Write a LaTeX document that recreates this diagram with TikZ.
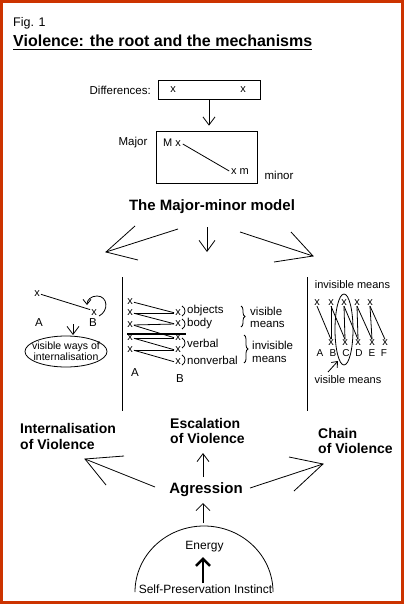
\documentclass[tikz,border=0pt]{standalone}
\usepackage{fontspec}
\setmainfont{Liberation Sans}
\usetikzlibrary{arrows.meta,decorations.pathreplacing,shapes.geometric}
\definecolor{framered}{RGB}{204,51,0}
\begin{document}
\begin{tikzpicture}[x=1pt,y=-1pt,
  lbl/.style={inner sep=0pt, font=\fontsize{11.5}{13}\selectfont},
  xm/.style={inner sep=0pt, font=\fontsize{11}{12}\selectfont},
  sm/.style={inner sep=0pt, font=\fontsize{10}{11}\selectfont},
  big/.style={inner sep=0pt, font=\bfseries\fontsize{14}{15.5}\selectfont, align=left},
  ln/.style={line width=0.8pt},
  vhead/.style={ln, -{Straight Barb[length=8pt,width=12pt]}},
  bighead/.style={ln, -{Straight Barb[length=11pt,width=16pt]}},
]
\useasboundingbox (0,0) rectangle (404,604);
\draw[line width=2.6pt, framered] (1.3,1.3) rectangle (402.7,602.7);

% header
\node[anchor=base west, inner sep=0pt, font=\fontsize{12.5}{14}\selectfont] (fig) at (13,27) {Fig. 1};
\node[anchor=base west, inner sep=0pt, font=\bfseries\fontsize{16}{18}\selectfont] (title) at (13,47) {Violence: the root and the mechanisms};
\draw[line width=1.3pt] ([yshift=-2.5pt]title.base west) -- ([yshift=-2.5pt]title.base east);

% differences
\node[draw, ln, minimum width=102pt, minimum height=19pt, inner sep=0pt] (diff) at (209,89.5) {};
\node[lbl, anchor=east] (difflbl) at (151,90) {Differences:};
\node[xm] (dx1) at (173,90) {x};
\node[xm] (dx2) at (243,90) {x};

% major-minor box
\node[draw, ln, minimum width=101pt, minimum height=52pt, inner sep=0pt] (major) at (206.5,157) {};
\draw[vhead, shorten >=5pt] (diff.south) -- (diff.south |- major.north);
\node[lbl] (majlbl) at (133,143) {Major};
\node[xm] (Mx) at (172,143) {M x};
\node[xm] (xm) at (240,172) {x m};
\draw[ln, shorten <=2pt, shorten >=2pt] (Mx.east) -- (xm.west);
\node[lbl] (minlbl) at (279,175) {minor};
\node[inner sep=0pt, font=\bfseries\fontsize{15}{17}\selectfont] (model) at (212,207) {The Major-minor model};

% three arrows from the model
\coordinate (ls) at (178,229); \coordinate (lt) at (106,252);
\coordinate (lh1) at (135,226); \coordinate (lh2) at (138,260);
\draw[ln] (ls) -- (lt); \draw[ln] (lh1) -- (lt) -- (lh2);
\coordinate (ms) at (207,227); \coordinate (mt) at (207,252);
\draw[bighead] (ms) -- (mt);
\coordinate (rs) at (240,232); \coordinate (rt) at (313,256);
\coordinate (rh1) at (291,232); \coordinate (rh2) at (274,262);
\draw[ln] (rs) -- (rt); \draw[ln] (rh1) -- (rt) -- (rh2);

% separators
\coordinate (s1a) at (122,277); \coordinate (s1b) at (122,411);
\coordinate (s2a) at (307,277); \coordinate (s2b) at (307,411);
\draw[ln] (s1a) -- (s1b);
\draw[ln] (s2a) -- (s2b);

% left panel
\node[xm] (lxa) at (37,294) {x};
\node[xm] (lxb) at (94,313) {x};
\draw[ln, shorten <=1pt, shorten >=1pt] (lxa.east) -- (lxb.north west);
\node[lbl] (la) at (39,323) {A};
\node[lbl] (lb) at (93,323) {B};
\draw[ln, -{Straight Barb[length=5pt,width=8pt]}] (99,316) .. controls (109,311) and (108,296) .. (97,296) .. controls (91,296) and (87,300) .. (87,305);
\coordinate (da) at (73,324); \coordinate (db) at (73,335);
\draw[vhead] (da) -- (db);
\node[draw, ln, ellipse, minimum width=82pt, minimum height=31pt, inner sep=0pt] (vis) at (66,351.5) {};
\node[inner sep=0pt, align=center, font=\fontsize{10.5}{11.5}\selectfont] (vistxt) at (66,351) {visible ways of\\internalisation};

% middle panel
\node[xm] (a1) at (130,302) {x};
\node[xm] (a2) at (130,313) {x};
\node[xm] (a3) at (130,325) {x};
\node[xm] (a4) at (130,338) {x};
\node[xm] (a5) at (130,350) {x};
\node[xm] (b1) at (178,313) {x};
\node[xm] (b2) at (178,324) {x};
\node[xm] (b3) at (178,338) {x};
\node[xm] (b4) at (178,350) {x};
\node[xm] (b5) at (178,362) {x};
\foreach \i in {1,...,5}{\draw[ln, shorten <=1pt, shorten >=1pt] (a\i.east) -- (b\i.west);}
\foreach \i/\j in {2/1,3/2,4/3,5/4}{\draw[ln, shorten <=1pt, shorten >=1pt] (a\i.east) -- (b\j.west);}
\coordinate (tha) at (127,334); \coordinate (thb) at (186,334);
\draw[line width=1.5pt] (tha) -- (thb);
\foreach \y/\t/\n in {311/objects/o, 324/body/bo, 343/verbal/ve, 360/nonverbal/nv}{
  \draw[ln] (182,\y-5) .. controls (186,\y-3) and (186,\y+3) .. (182,\y+5);
  \node[lbl, anchor=west] (\n) at (187,\y) {\t};
}
\draw[ln, decorate, decoration={brace, amplitude=4pt}] (241,306) -- (241,327);
\node[lbl, anchor=west] (vm1) at (250,311) {visible};
\node[lbl, anchor=west] (vm2) at (250,324) {means};
\draw[ln, decorate, decoration={brace, amplitude=4pt}] (244,335) -- (244,363);
\node[lbl, anchor=west] (im1) at (252,345) {invisible};
\node[lbl, anchor=west] (im2) at (252,359) {means};
\node[lbl] (ma) at (135,373) {A};
\node[lbl] (mb) at (180,379) {B};

% right panel
\node[xm] (inv) at (352.5,285) {invisible means};
\foreach \i/\x in {1/317,2/331,3/344,4/357,5/370}{\node[xm] (t\i) at (\x,303) {x};}
\foreach \i/\x in {1/331,2/345,3/358,4/372,5/385}{\node[xm] (u\i) at (\x,342.5) {x};}
\foreach \i/\x/\l in {1/320/A,2/333/B,3/346/C,4/359/D,5/372/E,6/384/F}{\node[sm] (L\i) at (\x,353.5) {\l};}
\foreach \i in {1,...,5}{\draw[ln] (t\i.south) -- (u\i.north);}
\foreach \i/\j in {1/2,2/3,3/4,4/5}{\draw[ln] (u\i.north) -- (t\j.south);}
\node[draw, ln, ellipse, minimum width=18pt, minimum height=71pt, inner sep=0pt] (cell) at (344,329.5) {};
\coordinate (sa1) at (328,372); \coordinate (sa2) at (338,361);
\draw[ln, -{Straight Barb[length=5pt,width=8pt]}] (sa1) -- (sa2);
\node[xm] (vism) at (348,380) {visible means};

% bottom labels
\node[big, anchor=west] (intv) at (20,436.5) {Internalisation\\of Violence};
\node[big, anchor=west] (escv) at (170,431) {Escalation\\of Violence};
\node[big, anchor=west] (chv) at (318,441) {Chain\\of Violence};
\node[inner sep=0pt, font=\bfseries\fontsize{15}{17}\selectfont] (agr) at (206,490) {Agression};

% arrows from agression
\coordinate (ams) at (203,477); \coordinate (amt) at (203,453);
\draw[vhead] (ams) -- (amt);
\coordinate (als) at (155,487); \coordinate (alt) at (85,459);
\coordinate (alh1) at (124,456); \coordinate (alh2) at (106,485);
\draw[ln] (als) -- (alt); \draw[ln] (alh1) -- (alt) -- (alh2);
\coordinate (ars) at (250,488); \coordinate (art) at (323,464);
\coordinate (arh1) at (289,457); \coordinate (arh2) at (294,491);
\draw[ln] (ars) -- (art); \draw[ln] (arh1) -- (art) -- (arh2);

% dome
\coordinate (es) at (203,523); \coordinate (et) at (203,503);
\draw[ln, -{Straight Barb[length=7pt,width=14pt]}] (es) -- (et);
\draw[ln] (135,592) arc[start angle=180, end angle=360, x radius=69, y radius=66];
\node[lbl, font=\fontsize{12}{13}\selectfont] (energy) at (204.5,547) {Energy};
\node[lbl, font=\fontsize{12}{13}\selectfont] (spi) at (205.5,589) {Self-Preservation Instinct};
\coordinate (ts) at (203,583); \coordinate (tt) at (203,557);
\draw[line width=2.6pt, -{Straight Barb[length=7pt,width=14pt]}] (ts) -- (tt);
\end{tikzpicture}
\end{document}
